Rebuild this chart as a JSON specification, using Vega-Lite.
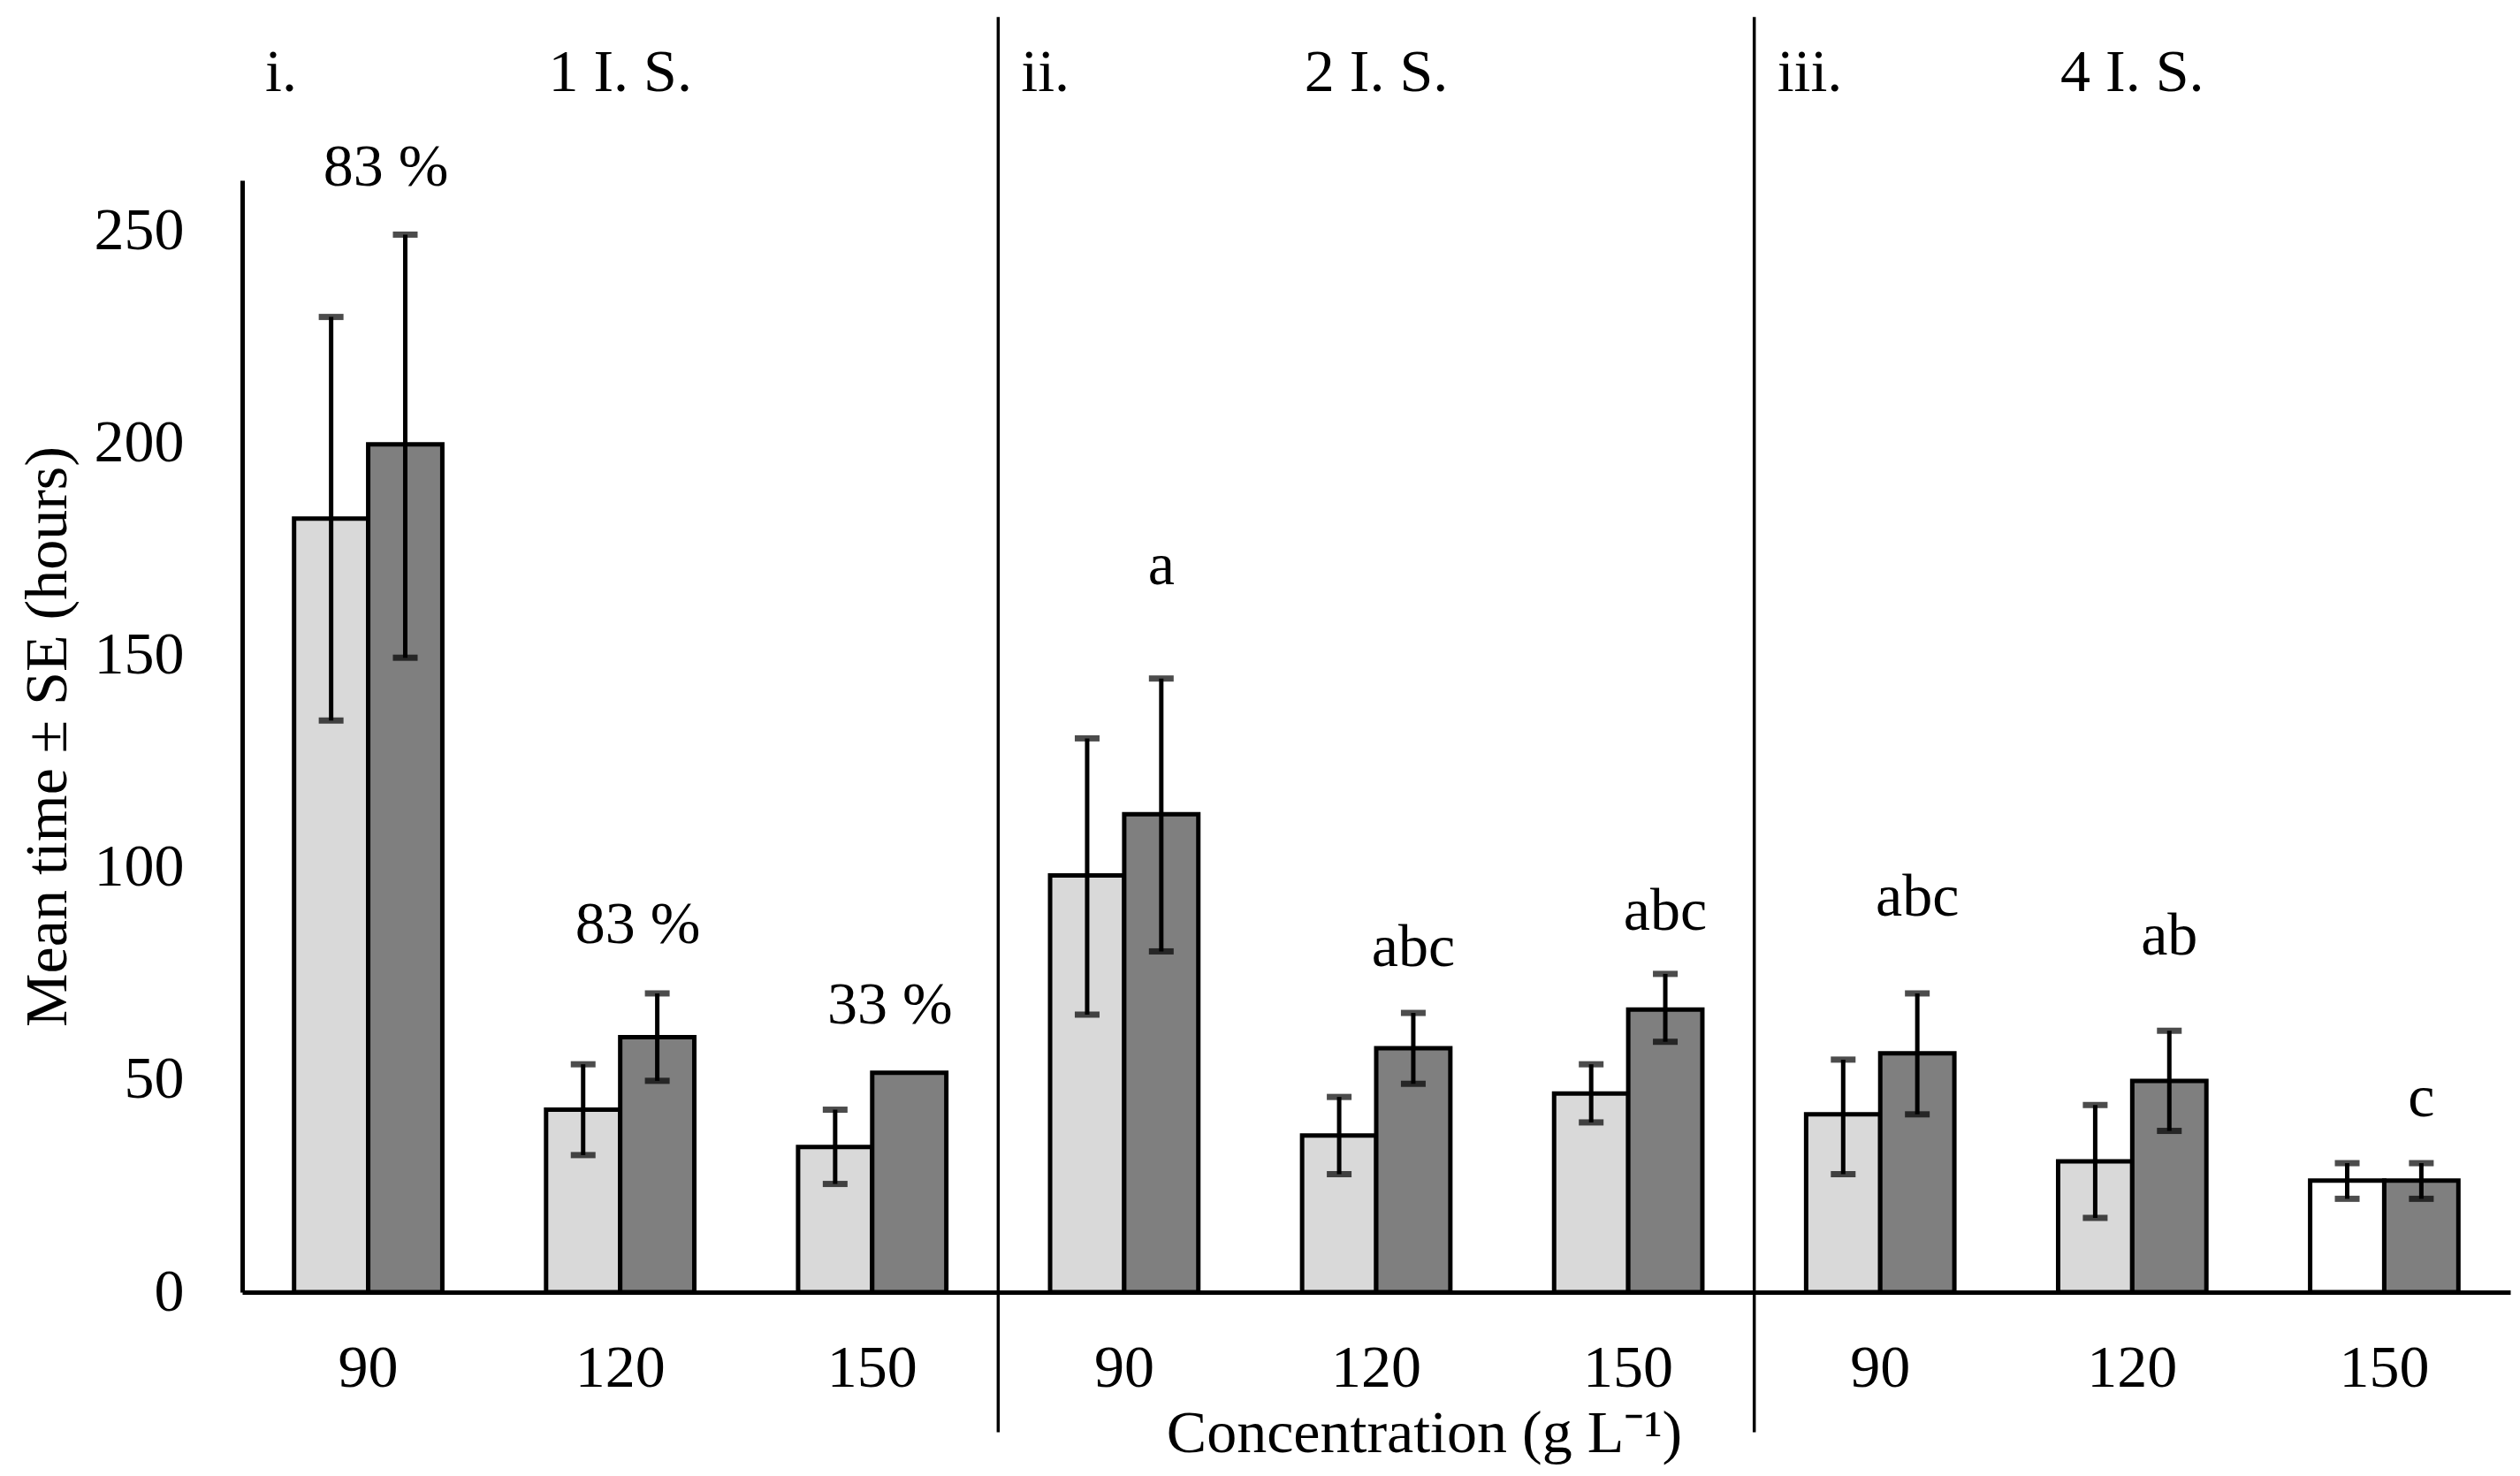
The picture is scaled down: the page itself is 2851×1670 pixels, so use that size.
{
  "$schema": "https://vega.github.io/schema/vega-lite/v6.json",
  "autosize": {"type": "none"},
  "width": 2566,
  "height": 1258,
  "padding": {"left": 274, "top": 204, "right": 11, "bottom": 209},
  "background": "white",
  "config": {
    "view": {"stroke": null},
    "font": "Liberation Serif",
    "axis": {
      "labelFont": "Liberation Serif",
      "titleFont": "Liberation Serif",
      "labelFontSize": 68,
      "titleFontSize": 68,
      "labelColor": "black",
      "titleColor": "black",
      "titleFontWeight": "normal",
      "domainColor": "black",
      "domainWidth": 5,
      "ticks": false,
      "grid": false
    }
  },
  "datasets": {
    "bars": [
      {"group": "i-90", "series": "A", "shade": "light", "mean": 182.3, "lo": 134.7, "hi": 229.8},
      {"group": "i-90", "series": "B", "shade": "dark", "mean": 199.8, "lo": 149.5, "hi": 249.2},
      {"group": "i-120", "series": "A", "shade": "light", "mean": 43.0, "lo": 32.3, "hi": 53.7},
      {"group": "i-120", "series": "B", "shade": "dark", "mean": 60.1, "lo": 49.8, "hi": 70.4},
      {"group": "i-150", "series": "A", "shade": "light", "mean": 34.2, "lo": 25.5, "hi": 43.0},
      {"group": "i-150", "series": "B", "shade": "dark", "mean": 51.7, "lo": null, "hi": null},
      {"group": "ii-90", "series": "A", "shade": "light", "mean": 98.2, "lo": 65.4, "hi": 130.5},
      {"group": "ii-90", "series": "B", "shade": "dark", "mean": 112.6, "lo": 80.3, "hi": 144.6},
      {"group": "ii-120", "series": "A", "shade": "light", "mean": 36.9, "lo": 27.8, "hi": 46.0},
      {"group": "ii-120", "series": "B", "shade": "dark", "mean": 57.5, "lo": 49.1, "hi": 65.8},
      {"group": "ii-150", "series": "A", "shade": "light", "mean": 46.8, "lo": 40.0, "hi": 53.7},
      {"group": "ii-150", "series": "B", "shade": "dark", "mean": 66.6, "lo": 59.0, "hi": 75.0},
      {"group": "iii-90", "series": "A", "shade": "light", "mean": 41.9, "lo": 27.8, "hi": 54.8},
      {"group": "iii-90", "series": "B", "shade": "dark", "mean": 56.3, "lo": 41.9, "hi": 70.4},
      {"group": "iii-120", "series": "A", "shade": "light", "mean": 30.8, "lo": 17.5, "hi": 44.1},
      {"group": "iii-120", "series": "B", "shade": "dark", "mean": 49.8, "lo": 38.0, "hi": 61.6},
      {"group": "iii-150", "series": "A", "shade": "white", "mean": 26.3, "lo": 22.0, "hi": 30.4},
      {"group": "iii-150", "series": "B", "shade": "dark", "mean": 26.3, "lo": 22.0, "hi": 30.4}
    ],
    "percents": [
      {"group": "i-90", "label": "83 %", "at": 265.0},
      {"group": "i-120", "label": "83 %", "at": 86.4},
      {"group": "i-150", "label": "33 %", "at": 67.4}
    ],
    "letters": [
      {"group": "ii-90", "series": "B", "label": "a", "at": 171.0},
      {"group": "ii-120", "series": "B", "label": "abc", "at": 81.0},
      {"group": "ii-150", "series": "B", "label": "abc", "at": 89.5},
      {"group": "iii-90", "series": "B", "label": "abc", "at": 92.8},
      {"group": "iii-120", "series": "B", "label": "ab", "at": 83.7},
      {"group": "iii-150", "series": "B", "label": "c", "at": 45.7}
    ],
    "panels": [
      {"first": "i-90", "middle": "i-120", "numeral": "i.", "name": "1 I. S.", "at": 287.3},
      {"first": "ii-90", "middle": "ii-120", "numeral": "ii.", "name": "2 I. S.", "at": 287.3},
      {"first": "iii-90", "middle": "iii-120", "numeral": "iii.", "name": "4 I. S.", "at": 287.3}
    ],
    "dividers": [
      {"group": "ii-90", "top": 300.5, "bottom": -33},
      {"group": "iii-90", "top": 300.5, "bottom": -33}
    ]
  },
  "layer": [
    {
      "data": {"name": "bars"},
      "mark": {"type": "bar", "stroke": "black", "strokeWidth": 5},
      "encoding": {
        "x": {
          "field": "group",
          "type": "nominal",
          "sort": null,
          "scale": {
            "domain": ["i-90", "i-120", "i-150", "ii-90", "ii-120", "ii-150", "iii-90", "iii-120", "iii-150"],
            "paddingInner": 0,
            "paddingOuter": 0
          },
          "axis": {
            "labelExpr": "split(datum.label, '-')[1]",
            "labelAngle": 0,
            "labelPadding": 52,
            "title": "Concentration (g L⁻¹)",
            "titleX": 1337,
            "titlePadding": 6
          }
        },
        "xOffset": {
          "field": "series",
          "type": "nominal",
          "scale": {"domain": ["A", "B"], "paddingInner": 0, "paddingOuter": 0.7}
        },
        "y": {
          "field": "mean",
          "type": "quantitative",
          "scale": {"domain": [0, 262], "nice": false},
          "axis": {
            "values": [0, 50, 100, 150, 200, 250],
            "labelPadding": 66,
            "title": "Mean time ± SE (hours)",
            "titlePadding": 18
          }
        },
        "color": {
          "field": "shade",
          "type": "nominal",
          "scale": {"domain": ["light", "dark", "white"], "range": ["#D9D9D9", "#7F7F7F", "#FFFFFF"]},
          "legend": null
        }
      }
    },
    {
      "data": {"name": "bars"},
      "transform": [{"filter": "datum.lo != null"}],
      "mark": {"type": "rule", "color": "black", "strokeWidth": 5},
      "encoding": {
        "x": {"field": "group", "type": "nominal", "sort": null},
        "xOffset": {"field": "series", "type": "nominal"},
        "y": {"field": "lo", "type": "quantitative"},
        "y2": {"field": "hi"}
      }
    },
    {
      "data": {"name": "bars"},
      "transform": [{"filter": "datum.lo != null"}],
      "mark": {"type": "tick", "color": "black", "thickness": 7, "size": 28, "orient": "horizontal"},
      "encoding": {
        "x": {"field": "group", "type": "nominal", "sort": null},
        "xOffset": {"field": "series", "type": "nominal"},
        "y": {"field": "lo", "type": "quantitative"}
      }
    },
    {
      "data": {"name": "bars"},
      "transform": [{"filter": "datum.hi != null"}],
      "mark": {"type": "tick", "color": "black", "thickness": 7, "size": 28, "orient": "horizontal"},
      "encoding": {
        "x": {"field": "group", "type": "nominal", "sort": null},
        "xOffset": {"field": "series", "type": "nominal"},
        "y": {"field": "hi", "type": "quantitative"}
      }
    },
    {
      "data": {"name": "dividers"},
      "mark": {"type": "rule", "color": "black", "strokeWidth": 3.5},
      "encoding": {
        "x": {"field": "group", "type": "nominal", "sort": null, "bandPosition": 0},
        "y": {"field": "bottom", "type": "quantitative"},
        "y2": {"field": "top"}
      }
    },
    {
      "data": {"name": "percents"},
      "mark": {"type": "text", "fontSize": 68, "baseline": "middle", "align": "center", "dx": 20, "color": "black"},
      "encoding": {
        "x": {"field": "group", "type": "nominal", "sort": null},
        "y": {"field": "at", "type": "quantitative"},
        "text": {"field": "label"}
      }
    },
    {
      "data": {"name": "letters"},
      "mark": {"type": "text", "fontSize": 68, "baseline": "middle", "align": "center", "color": "black"},
      "encoding": {
        "x": {"field": "group", "type": "nominal", "sort": null},
        "xOffset": {"field": "series", "type": "nominal"},
        "y": {"field": "at", "type": "quantitative"},
        "text": {"field": "label"}
      }
    },
    {
      "data": {"name": "panels"},
      "mark": {"type": "text", "fontSize": 68, "baseline": "middle", "align": "left", "dx": 26, "color": "black"},
      "encoding": {
        "x": {"field": "first", "type": "nominal", "sort": null, "bandPosition": 0},
        "y": {"field": "at", "type": "quantitative"},
        "text": {"field": "numeral"}
      }
    },
    {
      "data": {"name": "panels"},
      "mark": {"type": "text", "fontSize": 68, "baseline": "middle", "align": "center", "color": "black"},
      "encoding": {
        "x": {"field": "middle", "type": "nominal", "sort": null},
        "y": {"field": "at", "type": "quantitative"},
        "text": {"field": "name"}
      }
    }
  ]
}
